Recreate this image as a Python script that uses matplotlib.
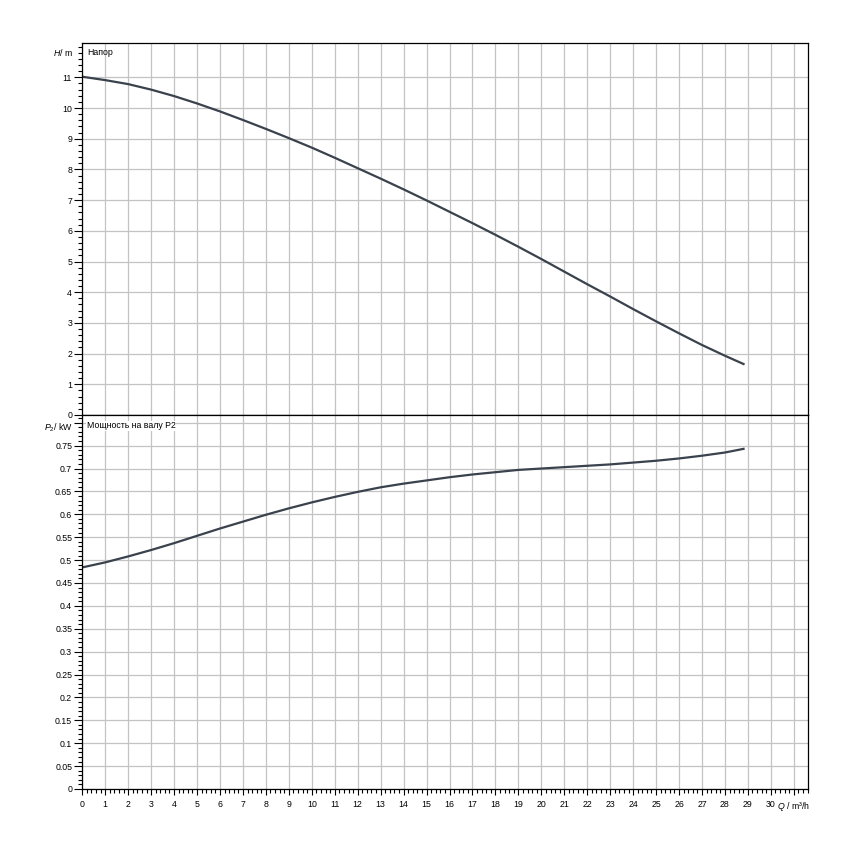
import matplotlib
matplotlib.use("Agg")
import matplotlib.pyplot as plt
from matplotlib.ticker import MultipleLocator, FixedLocator, FixedFormatter

plt.rcParams['font.family'] = ['Liberation Sans', 'DejaVu Sans']
plt.rcParams['mathtext.fontset'] = 'custom'
plt.rcParams['mathtext.rm'] = 'Liberation Sans'
plt.rcParams['mathtext.it'] = 'Liberation Sans:italic'

# flow Q, m3/h
q = [0, 1, 2, 3, 4, 5, 6, 7, 8, 9, 10, 11, 12, 13, 14, 15, 16, 17, 18, 19,
     20, 21, 22, 23, 24, 25, 26, 27, 28, 28.81]
# head H, m
head = [11.02, 10.91, 10.78, 10.60, 10.39, 10.15, 9.89, 9.61, 9.32, 9.02,
        8.71, 8.38, 8.04, 7.70, 7.35, 6.99, 6.62, 6.25, 5.87, 5.48,
        5.08, 4.67, 4.26, 3.86, 3.45, 3.05, 2.66, 2.28, 1.93, 1.66]
# shaft power P2, kW
power = [0.484, 0.495, 0.508, 0.522, 0.537, 0.553, 0.569, 0.584, 0.599, 0.613,
         0.626, 0.638, 0.649, 0.659, 0.667, 0.674, 0.681, 0.687, 0.692, 0.697,
         0.700, 0.703, 0.706, 0.709, 0.713, 0.717, 0.722, 0.728, 0.735, 0.743]

x_ticks = list(range(0, 32))
x_labels = [str(v) for v in range(0, 31)] + ['$Q$ / m³/h']
h_ticks = list(range(0, 12))
p_ticks = [0, 0.05, 0.1, 0.15, 0.2, 0.25, 0.3, 0.35, 0.4, 0.45, 0.5, 0.55,
           0.6, 0.65, 0.7, 0.75, 0.8]
p_labels = ['0', '0.05', '0.1', '0.15', '0.2', '0.25', '0.3', '0.35', '0.4',
            '0.45', '0.5', '0.55', '0.6', '0.65', '0.7', '0.75', '']

line_col = '#3a424d'
grid_col = '#c3c3c3'
fs = 6.3

fig = plt.figure(figsize=(8.5, 8.5), dpi=100)
ax1 = fig.add_axes([0.0968, 0.5118, 0.9509 - 0.0968, 0.9498 - 0.5118])
ax2 = fig.add_axes([0.0968, 0.0718, 0.9509 - 0.0968, 0.5118 - 0.0718])

for ax in (ax1, ax2):
    ax.set_xlim(0, 31.63)
    ax.xaxis.set_major_locator(FixedLocator(x_ticks))
    ax.xaxis.set_minor_locator(MultipleLocator(0.2))
    ax.grid(True, which='major', color=grid_col, lw=0.9)
    ax.set_axisbelow(True)
    for s in ax.spines.values():
        s.set_color('black')
        s.set_linewidth(0.9)
    ax.tick_params(axis='y', which='major', direction='out', length=5.8, width=0.8,
                   labelsize=fs, pad=1.5, colors='black')
    ax.tick_params(axis='y', which='minor', direction='out', length=2.9, width=0.8)

# head panel
ax1.plot(q, head, color=line_col, lw=1.6)
ax1.set_ylim(0, 12.13)
ax1.yaxis.set_major_locator(FixedLocator(h_ticks))
ax1.yaxis.set_minor_locator(MultipleLocator(0.2))
ax1.tick_params(axis='x', which='both', bottom=False, labelbottom=False)
ax1.text(-0.013, 11.8, '$H$/ m', ha='right', va='center', fontsize=fs,
         transform=ax1.get_yaxis_transform())
ax1.text(0.2, 11.8, 'Напор', ha='left', va='center', fontsize=fs)

# power panel
ax2.plot(q, power, color=line_col, lw=1.6)
ax2.set_ylim(0, 0.817)
ax2.yaxis.set_major_locator(FixedLocator(p_ticks))
ax2.yaxis.set_major_formatter(FixedFormatter(p_labels))
ax2.yaxis.set_minor_locator(MultipleLocator(0.01))
ax2.xaxis.set_major_formatter(FixedFormatter(x_labels))
ax2.tick_params(axis='x', which='major', direction='out', length=4.3, width=0.8,
                labelsize=fs, pad=4, colors='black')
ax2.tick_params(axis='x', which='minor', direction='out', length=2.9, width=0.8)
ax2.text(-0.013, 0.789, '$P_2$/ kW', ha='right', va='center', fontsize=fs,
         transform=ax2.get_yaxis_transform())
ax2.text(0.2, 0.793, 'Мощность на валу P2', ha='left', va='center', fontsize=fs,
         bbox=dict(facecolor='white', edgecolor='none', pad=0.5))

fig.savefig('out.png', dpi=100)
